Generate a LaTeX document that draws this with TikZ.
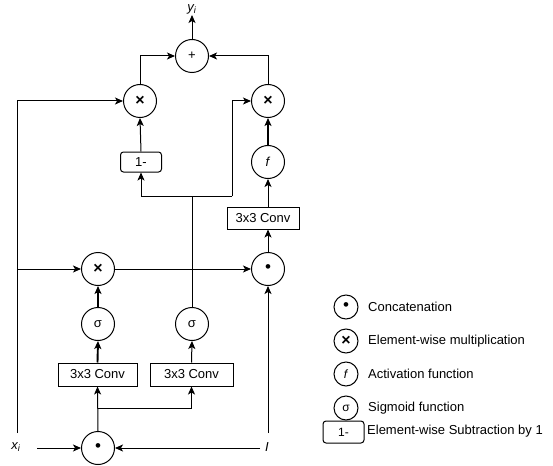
\documentclass[tikz,border=0pt]{standalone}
\usepackage{fontspec}
\setmainfont{Liberation Sans}
\usetikzlibrary{arrows.meta,calc}
\tikzset{
  op/.style={circle,draw,line width=1pt,minimum size=33pt,inner sep=0pt,font=\fontsize{13}{14}\selectfont},
  legop/.style={circle,draw,line width=1pt,minimum size=24pt,inner sep=0pt,font=\fontsize{12}{13}\selectfont},
  box/.style={rectangle,draw,line width=1pt,inner sep=0pt,font=\fontsize{13}{15}\selectfont},
  rbox/.style={box,rounded corners=3pt},
  lbl/.style={inner sep=1pt,font=\fontsize{13}{15}\selectfont},
  legtxt/.style={anchor=west,inner sep=0pt,font=\fontsize{13}{15}\selectfont},
  conn/.style={line width=1pt},
  arr/.style={conn,-{Stealth[length=8pt,width=7pt,inset=2pt]}},
  tarr/.style={line width=1.9pt,-{Stealth[length=8pt,width=7pt,inset=2pt]}},
}
\newcommand{\mulsym}{{\fontsize{16}{16}\selectfont\bfseries ×}}
\newcommand{\catsym}{{\fontsize{17}{17}\selectfont •}}
\begin{document}
\begin{tikzpicture}[x=1pt,y=-1pt]
\useasboundingbox (0,0) rectangle (553,465);

% operators of the gate
\node[op] (plus) at (192,56) {+};
\node[op] (mtl)  at (140,101) {\mulsym};
\node[op] (mtr)  at (268,101) {\mulsym};
\node[rbox,minimum width=41pt,minimum height=20pt] (one) at (141,162) {1-};
\node[op] (fc)   at (268,162) {\textit{f}};
\node[box,minimum width=72pt,minimum height=22pt] (convT) at (263,218) {3x3 Conv};
\node[op] (catM) at (268,269) {\catsym};
\node[op] (mulM) at (98,269) {\mulsym};
\node[op] (sigA) at (98,324) {σ};
\node[op] (sigB) at (192,324) {σ};
\node[box,minimum width=79pt,minimum height=23pt] (convA) at (97.5,374.5) {3x3 Conv};
\node[box,minimum width=83pt,minimum height=23pt] (convB) at (191.5,374.5) {3x3 Conv};
\node[op] (catB) at (98,448) {\catsym};

% inputs and output
\node[lbl] (yi) at (192,9) {\textit{y\textsubscript{i}}};
\node[lbl] (xi) at (16,447) {\textit{x\textsubscript{i}}};
\node[lbl] (I)  at (267,447) {\textit{I}};
\coordinate (xiTop) at (17,433);
\coordinate (xiOut) at (37,448);
\coordinate (iTop) at (268,433);
\coordinate (iOut) at (260,448);
\coordinate (split) at (98,408);
\coordinate (gate) at (192,196);
\coordinate (gateL) at (141,196);
\coordinate (gateR) at (232,196);

% output path
\draw[arr] (plus.north) -- (yi.south);
\draw[arr] (mtl.north) |- (plus.west);
\draw[arr] (mtr.north) |- (plus.east);
\draw[arr] (one.north) -- (mtl.south);
\draw[tarr] (fc.north) -- (mtr.south);
\draw[arr] (fc.south |- convT.north) -- (fc.south);
\draw[arr] (catM.north) -- (catM.north |- convT.south);

% skip connection of x_i
\draw[arr] (xiTop) |- (mtl.west);
\draw[arr] (xiTop |- mulM.west) -- (mulM.west);
\draw[arr] (xiOut) -- (catB.west);
\draw[arr] (iOut) -- (catB.east);
\draw[arr] (iTop) -- (catM.south);

% convolutions and gates
\draw[arr] (catB.north) -- (convA.south);
\draw[arr] (split) -| (convB.south);
\draw[tarr] (convA.north) -- (sigA.south);
\draw[tarr] (sigA.north) -- (mulM.south);
\draw[arr] (convB.north) -- (sigB.south);
\draw[conn] (sigB.north) -- (gate);
\draw[arr] (gateR) -- (gateL) -- (one.south);
\draw[arr] (gateR) |- (mtr.west);
\draw[arr] (mulM.east) -- (catM.west);

% legend
\node[legop] (lgA) at (346,307) {\catsym};
\node[legop] (lgB) at (346,341) {\mulsym};
\node[legop] (lgC) at (346,374) {\textit{f}};
\node[legop] (lgD) at (346,408) {σ};
\node[rbox,minimum width=41pt,minimum height=22pt,font=\fontsize{12}{13}\selectfont] (lgE) at (343.5,432) {1-};
\node[legtxt] (ltA) at (368,307) {Concatenation};
\node[legtxt] (ltB) at (368,341) {Element-wise multiplication};
\node[legtxt] (ltC) at (368,374) {Activation function};
\node[legtxt] (ltD) at (368,408) {Sigmoid function};
\node[legtxt] (ltE) at (367,431) {Element-wise Subtraction by 1};
\end{tikzpicture}
\end{document}
